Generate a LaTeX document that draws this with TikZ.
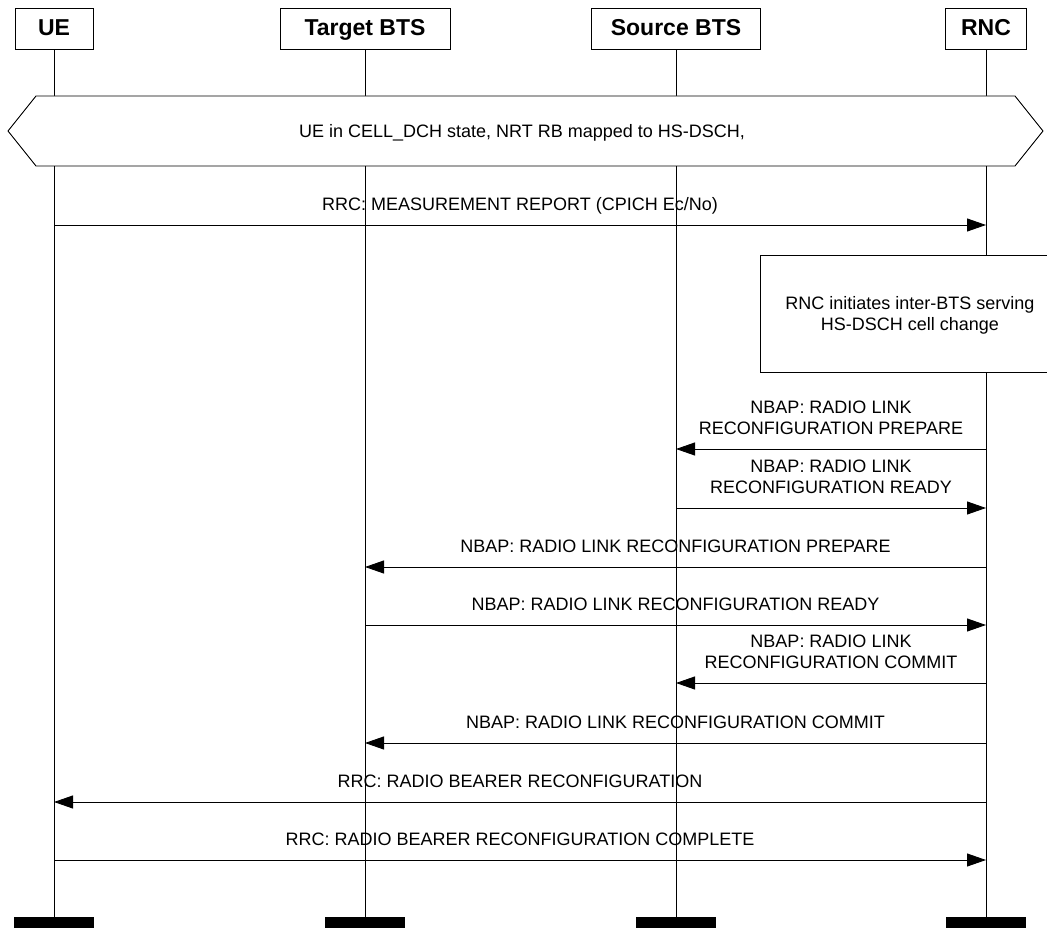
\documentclass[tikz,border=0pt]{standalone}
\usepackage{fontspec}
\setmainfont{Liberation Sans}
\usetikzlibrary{arrows.meta}

\begin{document}
\begin{tikzpicture}[x=1pt,y=-1pt,line width=0.9pt,
  head/.style={draw,font=\fontsize{23}{26}\selectfont\bfseries,minimum height=41pt,inner sep=0pt,text height=16.5pt,text depth=1.5pt},
  bar/.style={fill=black,minimum width=80pt,minimum height=11pt,inner sep=0pt},
  msg/.style={-{Triangle[length=19pt,width=13pt]}},
  lbl/.style={font=\fontsize{18}{21}\selectfont,align=center,inner sep=0pt,text depth=0pt}]
  \useasboundingbox[fill=white] (0,0) rectangle (1047,928);
  % entities
  \node[head,minimum width=78pt] (ue) at (54,28.5) {UE};
  \node[head,minimum width=170pt] (tbts) at (365,28.5) {Target BTS};
  \node[head,minimum width=169pt] (sbts) at (676,28.5) {Source BTS};
  \node[head,minimum width=81pt] (rnc) at (986,28.5) {RNC};
  \foreach \n/\x in {ue/54,tbts/365,sbts/676,rnc/986}
    \node[bar] (\n-end) at (\x,922.5) {};
  \foreach \n in {ue,tbts,sbts,rnc}
    \draw (\n) -- (\n-end);
  % state
  \draw[fill=white] (36,96) -- (1015,96) -- (1043,131) -- (1015,166) -- (36,166) -- (8,131) -- cycle;
  \node[lbl] (state) at (522,131) {UE in CELL\_DCH state, NRT RB mapped to HS-DSCH,};
  \draw[msg] (ue |- 0,225) -- (rnc |- 0,225)
    node[lbl,midway,anchor=south,yshift=14pt] {RRC: MEASUREMENT REPORT (CPICH Ec/No)};
  % RNC decision
  \draw[fill=white] (760,255) rectangle (1047,372);
  \node[lbl] (act) at (910,313) {RNC initiates inter-BTS serving\\HS-DSCH cell change};
  % NBAP
  \draw[msg] (rnc |- 0,449) -- (sbts |- 0,449)
    node[lbl,midway,anchor=south,yshift=14pt] {NBAP: RADIO LINK\\RECONFIGURATION PREPARE};
  \draw[msg] (sbts |- 0,508) -- (rnc |- 0,508)
    node[lbl,midway,anchor=south,yshift=14pt] {NBAP: RADIO LINK\\RECONFIGURATION READY};
  \draw[msg] (rnc |- 0,567) -- (tbts |- 0,567)
    node[lbl,midway,anchor=south,yshift=14pt] {NBAP: RADIO LINK RECONFIGURATION PREPARE};
  \draw[msg] (tbts |- 0,625) -- (rnc |- 0,625)
    node[lbl,midway,anchor=south,yshift=14pt] {NBAP: RADIO LINK RECONFIGURATION READY};
  \draw[msg] (rnc |- 0,683) -- (sbts |- 0,683)
    node[lbl,midway,anchor=south,yshift=14pt] {NBAP: RADIO LINK\\RECONFIGURATION COMMIT};
  \draw[msg] (rnc |- 0,743) -- (tbts |- 0,743)
    node[lbl,midway,anchor=south,yshift=14pt] {NBAP: RADIO LINK RECONFIGURATION COMMIT};
  % RRC
  \draw[msg] (rnc |- 0,802) -- (ue |- 0,802)
    node[lbl,midway,anchor=south,yshift=14pt] {RRC: RADIO BEARER RECONFIGURATION};
  \draw[msg] (ue |- 0,860) -- (rnc |- 0,860)
    node[lbl,midway,anchor=south,yshift=14pt] {RRC: RADIO BEARER RECONFIGURATION COMPLETE};
\end{tikzpicture}
\end{document}
